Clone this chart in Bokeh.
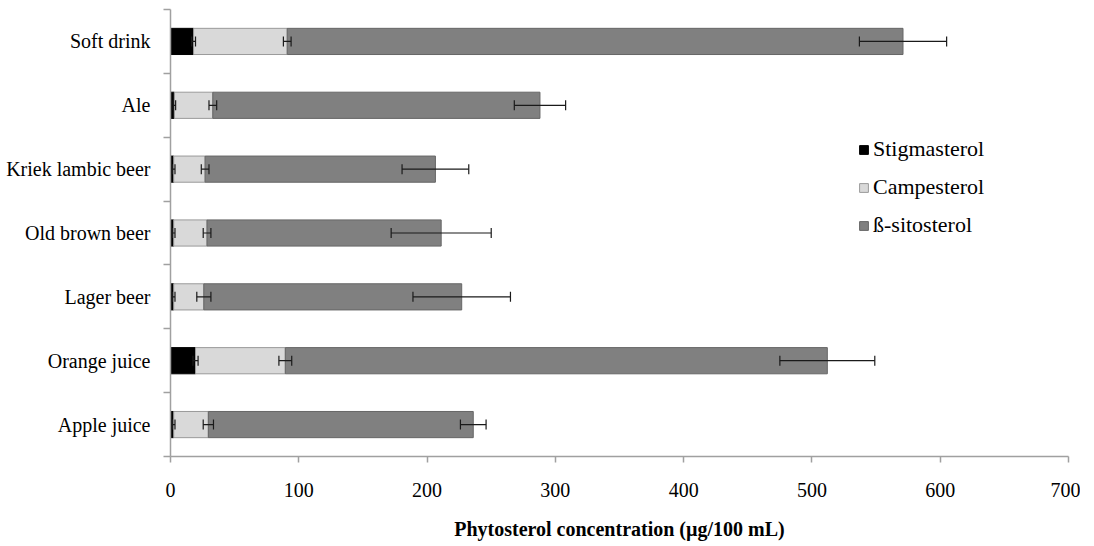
from bokeh.plotting import figure
from bokeh.models import (ColumnDataSource, Range1d, FixedTicker, LinearAxis, Whisker,
                          TeeHead, Legend, LegendItem)
from bokeh.embed import file_html
from bokeh.resources import INLINE

# Data (bottom -> top)
categories = ["Apple juice", "Orange juice", "Lager beer", "Old brown beer",
              "Kriek lambic beer", "Ale", "Soft drink"]
stigmasterol = [2.5, 19.5, 2.5, 2.5, 2.5, 3.0, 18.0]
campesterol = [27.0, 70.0, 23.5, 26.0, 24.5, 30.0, 73.0]
sitosterol = [206.5, 422.5, 201.0, 182.5, 179.5, 255.0, 480.0]
stig_err = [1.0, 2.0, 1.0, 1.0, 1.0, 1.0, 1.5]
camp_err = [4.0, 5.0, 5.5, 3.0, 3.0, 3.0, 3.0]
sito_err = [10.0, 37.0, 38.0, 39.0, 26.0, 20.0, 34.0]
x_ticks = [0, 100, 200, 300, 400, 500, 600, 700]

series = ["Stigmasterol", "Campesterol", "ß-sitosterol"]
fills = ["#000000", "#d9d9d9", "#808080"]
lines = ["#000000", "#9a9a9a", "#666666"]

FONT = "Liberation Serif"

y = [i + 0.5 for i in range(len(categories))]

p = figure(frame_width=898, frame_height=447, output_backend="svg",
           toolbar_location=None, x_range=Range1d(0, 700), y_range=Range1d(0, len(categories)),
           min_border_left=170, min_border_right=12, min_border_top=9, min_border_bottom=82,
           x_axis_type=None, y_axis_type=None)
p.outline_line_color = None
p.grid.visible = False
p.background_fill_color = "white"
p.border_fill_color = "white"

# stacked bars
left = [0.0] * len(categories)
renderers = []
errs = [stig_err, camp_err, sito_err]
for vals, fc, lc, err in zip([stigmasterol, campesterol, sitosterol], fills, lines, errs):
    right = [l + v for l, v in zip(left, vals)]
    src = ColumnDataSource(dict(y=y, left=left, right=right,
                                lo=[r - e for r, e in zip(right, err)],
                                hi=[r + e for r, e in zip(right, err)]))
    r = p.hbar(y="y", left="left", right="right", height=0.41, source=src,
               fill_color=fc, line_color=lc, line_width=1)
    renderers.append(r)
    left = right
    w = Whisker(source=src, base="y", lower="lo", upper="hi", dimension="width",
                line_color="#1a1a1a", line_width=1.2, level="overlay",
                upper_head=TeeHead(size=10, line_color="#1a1a1a", line_width=1.2),
                lower_head=TeeHead(size=10, line_color="#1a1a1a", line_width=1.2))
    p.add_layout(w)

# x axis
xaxis = LinearAxis(ticker=FixedTicker(ticks=x_ticks, minor_ticks=[]),
                   axis_label="Phytosterol concentration (µg/100 mL)")
xaxis.axis_line_color = "#a0a0a0"
xaxis.axis_line_width = 1.5
xaxis.major_tick_line_color = "#a0a0a0"
xaxis.major_tick_line_width = 1.5
xaxis.major_tick_out = 6
xaxis.major_tick_in = 0
xaxis.minor_tick_line_color = None
xaxis.major_label_standoff = 20
xaxis.major_label_text_font = FONT
xaxis.major_label_text_font_size = "20px"
xaxis.major_label_text_color = "#000000"
xaxis.axis_label_text_font = FONT
xaxis.axis_label_text_font_size = "20px"
xaxis.axis_label_text_font_style = "bold"
xaxis.axis_label_text_color = "#000000"
xaxis.axis_label_standoff = 18
p.add_layout(xaxis, "below")

# y axis: labels at centers, tick marks at category boundaries
yaxis = LinearAxis(ticker=FixedTicker(ticks=y, minor_ticks=list(range(len(categories) + 1))))
yaxis.major_label_overrides = {yy: c for yy, c in zip(y, categories)}
yaxis.axis_line_color = "#a0a0a0"
yaxis.axis_line_width = 1.5
yaxis.major_tick_line_color = None
yaxis.major_tick_out = 0
yaxis.major_tick_in = 0
yaxis.minor_tick_line_color = "#a0a0a0"
yaxis.minor_tick_line_width = 1.5
yaxis.minor_tick_out = 7
yaxis.minor_tick_in = 0
yaxis.major_label_standoff = 13
yaxis.major_label_text_font = FONT
yaxis.major_label_text_font_size = "20px"
yaxis.major_label_text_color = "#000000"
p.add_layout(yaxis, "left")

legend = Legend(items=[LegendItem(label=s, renderers=[r]) for s, r in zip(series, renderers)],
                location=(688, 218), orientation="vertical",
                glyph_width=11, glyph_height=11, label_standoff=4,
                label_text_font=FONT, label_text_font_size="22px", label_text_color="#000000",
                spacing=12, padding=0, margin=0, border_line_color=None,
                background_fill_alpha=0)
p.add_layout(legend)

open("out.html", "w").write(file_html(p, INLINE))
